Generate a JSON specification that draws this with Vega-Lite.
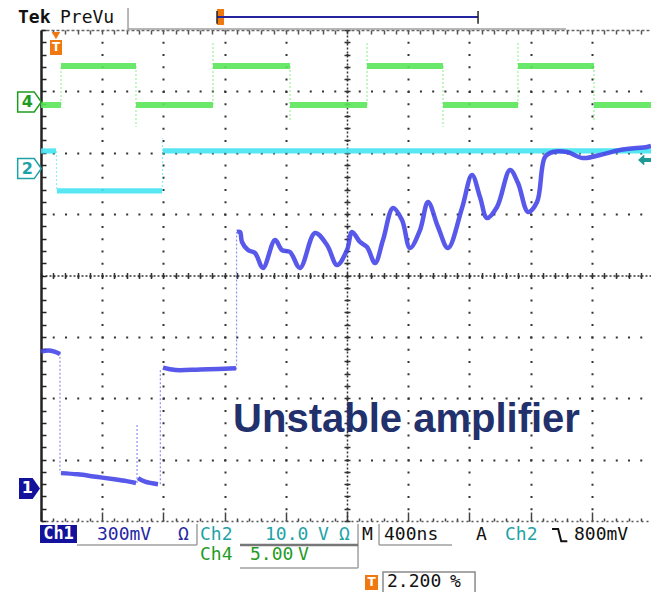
{
"$schema": "https://vega.github.io/schema/vega-lite/v6.json",
"width": 610, "height": 491,
"autosize": {"type": "none"},
"padding": {"left": 41, "top": 30, "right": 0, "bottom": 71},
"background": "white",
"config": {"view": {"stroke": null}},
"datasets": {
"trace": [
{"ch":"ch4","seg":"g0","x":0,"y":6.778},{"ch":"ch4","seg":"g0","x":0.327,"y":6.778},
{"ch":"ch4","seg":"g1","x":0.327,"y":7.413},{"ch":"ch4","seg":"g1","x":1.552,"y":7.413},
{"ch":"ch4","seg":"g2","x":1.552,"y":6.778},{"ch":"ch4","seg":"g2","x":2.81,"y":6.778},
{"ch":"ch4","seg":"g3","x":2.81,"y":7.413},{"ch":"ch4","seg":"g3","x":4.069,"y":7.413},
{"ch":"ch4","seg":"g4","x":4.069,"y":6.778},{"ch":"ch4","seg":"g4","x":5.327,"y":6.778},
{"ch":"ch4","seg":"g5","x":5.327,"y":7.413},{"ch":"ch4","seg":"g5","x":6.569,"y":7.413},
{"ch":"ch4","seg":"g6","x":6.569,"y":6.778},{"ch":"ch4","seg":"g6","x":7.794,"y":6.778},
{"ch":"ch4","seg":"g7","x":7.794,"y":7.413},{"ch":"ch4","seg":"g7","x":9.036,"y":7.413},
{"ch":"ch4","seg":"g8","x":9.036,"y":6.778},{"ch":"ch4","seg":"g8","x":9.967,"y":6.778},
{"ch":"ch2","seg":"c0","x":0,"y":6.029},{"ch":"ch2","seg":"c0","x":0.245,"y":6.029},
{"ch":"ch2","seg":"c1","x":0.261,"y":5.377},{"ch":"ch2","seg":"c1","x":1.977,"y":5.377},
{"ch":"ch2","seg":"c2","x":1.993,"y":6.029},{"ch":"ch2","seg":"c2","x":9.967,"y":6.029},
{"ch":"ch1","seg":"b0","x":0,"y":2.76},{"ch":"ch1","seg":"b0","x":0.12,"y":2.78},{"ch":"ch1","seg":"b0","x":0.22,"y":2.76},{"ch":"ch1","seg":"b0","x":0.31,"y":2.72},
{"ch":"ch1","seg":"b1","x":0.327,"y":0.78},{"ch":"ch1","seg":"b1","x":0.6,"y":0.76},{"ch":"ch1","seg":"b1","x":0.9,"y":0.72},{"ch":"ch1","seg":"b1","x":1.2,"y":0.68},{"ch":"ch1","seg":"b1","x":1.4,"y":0.65},{"ch":"ch1","seg":"b1","x":1.552,"y":0.62},
{"ch":"ch1","seg":"b2","x":1.585,"y":0.7},{"ch":"ch1","seg":"b2","x":1.7,"y":0.64},{"ch":"ch1","seg":"b2","x":1.912,"y":0.6},
{"ch":"ch1","seg":"b3","x":1.993,"y":2.5},{"ch":"ch1","seg":"b3","x":2.2,"y":2.46},{"ch":"ch1","seg":"b3","x":2.6,"y":2.47},{"ch":"ch1","seg":"b3","x":3.0,"y":2.48},{"ch":"ch1","seg":"b3","x":3.186,"y":2.49},
{"ch":"ch1","seg":"b4","x":3.203,"y":4.709},{"ch":"ch1","seg":"b4","x":3.252,"y":4.709},{"ch":"ch1","seg":"b4","x":3.284,"y":4.546},{"ch":"ch1","seg":"b4","x":3.382,"y":4.415},{"ch":"ch1","seg":"b4","x":3.497,"y":4.367},{"ch":"ch1","seg":"b4","x":3.627,"y":4.122},{"ch":"ch1","seg":"b4","x":3.824,"y":4.578},{"ch":"ch1","seg":"b4","x":3.938,"y":4.415},{"ch":"ch1","seg":"b4","x":4.069,"y":4.383},{"ch":"ch1","seg":"b4","x":4.232,"y":4.122},{"ch":"ch1","seg":"b4","x":4.477,"y":4.692},{"ch":"ch1","seg":"b4","x":4.673,"y":4.497},{"ch":"ch1","seg":"b4","x":4.837,"y":4.171},{"ch":"ch1","seg":"b4","x":5.0,"y":4.415},{"ch":"ch1","seg":"b4","x":5.082,"y":4.709},{"ch":"ch1","seg":"b4","x":5.212,"y":4.546},{"ch":"ch1","seg":"b4","x":5.327,"y":4.464},{"ch":"ch1","seg":"b4","x":5.458,"y":4.204},{"ch":"ch1","seg":"b4","x":5.588,"y":4.578},{"ch":"ch1","seg":"b4","x":5.752,"y":5.1},{"ch":"ch1","seg":"b4","x":5.899,"y":4.904},{"ch":"ch1","seg":"b4","x":6.029,"y":4.448},{"ch":"ch1","seg":"b4","x":6.193,"y":4.741},{"ch":"ch1","seg":"b4","x":6.324,"y":5.196},{"ch":"ch1","seg":"b4","x":6.487,"y":4.79},{"ch":"ch1","seg":"b4","x":6.65,"y":4.448},{"ch":"ch1","seg":"b4","x":6.879,"y":5.1},{"ch":"ch1","seg":"b4","x":7.042,"y":5.638},{"ch":"ch1","seg":"b4","x":7.173,"y":5.279},{"ch":"ch1","seg":"b4","x":7.288,"y":4.937},{"ch":"ch1","seg":"b4","x":7.451,"y":5.116},{"ch":"ch1","seg":"b4","x":7.663,"y":5.719},{"ch":"ch1","seg":"b4","x":7.794,"y":5.507},{"ch":"ch1","seg":"b4","x":7.958,"y":5.035},{"ch":"ch1","seg":"b4","x":8.105,"y":5.198},{"ch":"ch1","seg":"b4","x":8.235,"y":5.931},{"ch":"ch1","seg":"b4","x":8.366,"y":6.012},{"ch":"ch1","seg":"b4","x":8.595,"y":6.012},{"ch":"ch1","seg":"b4","x":8.856,"y":5.914},{"ch":"ch1","seg":"b4","x":9.134,"y":5.963},{"ch":"ch1","seg":"b4","x":9.461,"y":6.045},{"ch":"ch1","seg":"b4","x":9.902,"y":6.094},{"ch":"ch1","seg":"b4","x":9.967,"y":6.11}
],
"edge": [
{"ch":"ch4","x":0.327,"y":6.778,"y2":7.413},
{"ch":"ch4","x":1.552,"y":7.413,"y2":6.42},
{"ch":"ch4","x":2.81,"y":6.778,"y2":7.8},
{"ch":"ch4","x":4.069,"y":7.413,"y2":6.5},
{"ch":"ch4","x":5.327,"y":6.778,"y2":7.8},
{"ch":"ch4","x":6.569,"y":7.413,"y2":6.42},
{"ch":"ch4","x":7.794,"y":6.778,"y2":7.8},
{"ch":"ch4","x":9.036,"y":7.413,"y2":6.5},
{"ch":"ch2","x":0.253,"y":6.029,"y2":5.377},
{"ch":"ch2","x":1.985,"y":5.377,"y2":6.24},
{"ch":"ch1","x":0.31,"y":2.74,"y2":0.78},
{"ch":"ch1","x":1.569,"y":0.62,"y2":1.564},
{"ch":"ch1","x":1.95,"y":0.6,"y2":2.48},
{"ch":"ch1","x":3.195,"y":2.47,"y2":4.709}
],
"readout": [
{"x":0.915,"y":-0.228,"text":"300mV","ch":"ch1"},
{"x":2.239,"y":-0.228,"text":"Ω","ch":"ch1"},
{"x":2.598,"y":-0.228,"text":"Ch2","ch":"ch2"},
{"x":3.66,"y":-0.228,"text":"10.0","ch":"ch2"},
{"x":4.526,"y":-0.228,"text":"V","ch":"ch2"},
{"x":4.87,"y":-0.228,"text":"Ω","ch":"ch2"},
{"x":5.245,"y":-0.228,"text":"M","ch":"sys"},
{"x":5.605,"y":-0.228,"text":"400ns","ch":"sys"},
{"x":7.108,"y":-0.228,"text":"A","ch":"sys"},
{"x":7.582,"y":-0.228,"text":"Ch2","ch":"ch2"},
{"x":8.709,"y":-0.228,"text":"800mV","ch":"sys"},
{"x":2.598,"y":-0.554,"text":"Ch4","ch":"ch4"},
{"x":3.415,"y":-0.554,"text":"5.00","ch":"ch4"},
{"x":4.2,"y":-0.554,"text":"V","ch":"ch4"},
{"x":5.654,"y":-0.994,"text":"2.200","ch":"sys"},
{"x":6.683,"y":-0.994,"text":"%","ch":"sys"}
],
"badge": [{"x":0.286,"y":-0.215,"text":"Ch1","ch":"inv"}],
"gndtext": [
{"x":-0.225,"y":6.827,"text":"4","ch":"ch4"},
{"x":-0.225,"y":5.743,"text":"2","ch":"ch2"},
{"x":-0.225,"y":0.53,"text":"1","ch":"inv"}
],
"gnd": [
{"x":-0.188,"y":6.827,"ch":"ch4"},
{"x":-0.188,"y":5.743,"ch":"ch2"},
{"x":-0.188,"y":0.53,"ch":"ch1"}
],
"tmark": [{"x":0.245,"y":7.715,"text":"T"},{"x":5.4,"y":-1.0,"text":"T"}],
"header": [{"x":-0.376,"y":8.196,"text":"Tek"},{"x":0.31,"y":8.196,"text":"PreVu"}],
"title": [{"x":5.972,"y":1.45,"text":"Unstable amplifier"}],
"lines": [
{"part":"box","x":0.588,"x2":2.549,"y":-0.391,"y2":-0.391},
{"part":"box","x":2.549,"x2":2.549,"y":-0.049,"y2":-0.391},
{"part":"box","x":5.18,"x2":5.18,"y":-0.049,"y2":-0.766},
{"part":"box","x":3.252,"x2":5.18,"y":-0.766,"y2":-0.766},
{"part":"box","x":5.523,"x2":5.523,"y":-0.049,"y2":-0.391},
{"part":"box","x":5.523,"x2":6.716,"y":-0.391,"y2":-0.391},
{"part":"box","x":1.422,"x2":1.422,"y":8.358,"y2":7.984},
{"part":"box","x":1.422,"x2":8.578,"y":8.016,"y2":8.016},
{"part":"dark","x":3.252,"x2":5.18,"y":-0.391,"y2":-0.391},
{"part":"bar","x":2.876,"x2":7.141,"y":8.212,"y2":8.212},
{"part":"cap","x":7.141,"x2":7.141,"y":8.31,"y2":8.1},
{"part":"cap","x":2.876,"x2":2.876,"y":8.31,"y2":8.1}
],
"rects": [
{"part":"navy","x":-0.016,"x2":0.588,"y":-0.065,"y2":-0.358},
{"part":"orange","x":0.147,"x2":0.343,"y":7.837,"y2":7.593},
{"part":"orange","x":2.876,"x2":2.99,"y":8.342,"y2":8.082},
{"part":"orange","x":5.294,"x2":5.507,"y":-0.88,"y2":-1.124},
{"part":"frame","x":5.588,"x2":7.092,"y":-0.831,"y2":-1.2}
],
"glyph": [{"x":8.35,"y":-0.13},{"x":8.45,"y":-0.13},{"x":8.5,"y":-0.33},{"x":8.6,"y":-0.33}],
"arrow": [{"x":9.869,"y":5.882}],
"trig": [{"x":0.245,"y":7.91}]
},
"layer": [
{
"data": {"name": "trace"},
"mark": {"type": "line", "strokeCap": "butt", "opacity": 0.9, "interpolate": "catmull-rom"},
"encoding": {
"x": {"field": "x", "type": "quantitative", "scale": {"domain": [0, 9.967], "nice": false, "zero": false},
 "axis": {"orient": "bottom", "grid": true, "values": [1,2,3,4,5,6,7,8,9], "gridColor": "#333", "gridWidth": 2, "gridDash": [2, 10.275], "gridDashOffset": 1, "ticks": false, "labels": false, "domain": false, "title": null}},
"y": {"field": "y", "type": "quantitative", "scale": {"domain": [0, 8], "nice": false, "zero": false},
 "axis": {"orient": "left", "grid": true, "values": [1,2,3,4,5,6,7], "gridColor": "#333", "gridWidth": 2, "gridDash": [2, 10.24], "gridDashOffset": 1, "ticks": false, "labels": false, "domain": false, "title": null}},
"stroke": {"field": "ch", "type": "nominal", "scale": {"domain": ["ch1","ch2","ch4"], "range": ["#4646e8","#44e4f2","#5ae65a"]}, "legend": null},
"strokeWidth": {"field": "ch", "type": "nominal", "scale": {"domain": ["ch1","ch2","ch4"], "range": [4.5, 6, 6]}, "legend": null},
"detail": {"field": "seg", "type": "nominal"}
}
},
{
"data": {"name": "edge"},
"mark": {"type": "rule", "strokeWidth": 1.2, "opacity": 0.6, "strokeDash": [2, 2]},
"encoding": {
"x": {"field": "x", "type": "quantitative", "scale": {"domain": [0, 9.967], "nice": false, "zero": false},
 "axis": {"orient": "bottom", "values": [0,0.2,0.4,0.6,0.8,1,1.2,1.4,1.6,1.8,2,2.2,2.4,2.6,2.8,3,3.2,3.4,3.6,3.8,4,4.2,4.4,4.6,4.8,5,5.2,5.4,5.6,5.8,6,6.2,6.4,6.6,6.8,7,7.2,7.4,7.6,7.8,8,8.2,8.4,8.6,8.8,9,9.2,9.4,9.6,9.8], "ticks": true, "tickSize": {"condition": {"test": "datum.value % 1 === 0", "value": -9}, "value": -3}, "tickColor": "#444", "tickWidth": 1.5, "domain": true, "domainColor": "#555", "domainWidth": 1.5, "domainDash": [2, 3], "labels": false, "grid": false, "title": null}},
"y": {"field": "y", "type": "quantitative", "scale": {"domain": [0, 8], "nice": false, "zero": false},
 "axis": {"orient": "left", "values": [0,0.2,0.4,0.6,0.8,1,1.2,1.4,1.6,1.8,2,2.2,2.4,2.6,2.8,3,3.2,3.4,3.6,3.8,4,4.2,4.4,4.6,4.8,5,5.2,5.4,5.6,5.8,6,6.2,6.4,6.6,6.8,7,7.2,7.4,7.6,7.8,8], "ticks": true, "tickSize": -5, "tickColor": "#222", "tickWidth": 1.5, "domain": true, "domainColor": "#222", "domainWidth": 2.5, "labels": false, "grid": false, "title": null}},
"y2": {"field": "y2"},
"stroke": {"field": "ch", "type": "nominal", "scale": {"domain": ["ch1","ch2","ch4"], "range": ["#4646e8","#44e4f2","#5ae65a"]}, "legend": null}
}
},
{
"data": {"name": "readout"},
"mark": {"type": "text", "font": "DejaVu Sans Mono", "fontSize": 18, "align": "left", "baseline": "middle"},
"encoding": {
"x": {"field": "x", "type": "quantitative", "scale": {"domain": [0, 9.967], "nice": false, "zero": false},
 "axis": {"orient": "top", "values": [0,0.2,0.4,0.6,0.8,1,1.2,1.4,1.6,1.8,2,2.2,2.4,2.6,2.8,3,3.2,3.4,3.6,3.8,4,4.2,4.4,4.6,4.8,5,5.2,5.4,5.6,5.8,6,6.2,6.4,6.6,6.8,7,7.2,7.4,7.6,7.8,8,8.2,8.4,8.6,8.8,9,9.2,9.4,9.6,9.8], "ticks": true, "tickSize": -4, "tickColor": "#555", "tickWidth": 1.5, "domain": true, "domainColor": "#666", "domainWidth": 1.5, "domainDash": [3, 2], "labels": false, "grid": false, "title": null}},
"y": {"field": "y", "type": "quantitative", "scale": {"domain": [0, 8], "nice": false, "zero": false},
 "axis": {"orient": "left", "offset": -306, "values": [0,0.2,0.4,0.6,0.8,1,1.2,1.4,1.6,1.8,2,2.2,2.4,2.6,2.8,3,3.2,3.4,3.6,3.8,4,4.2,4.4,4.6,4.8,5,5.2,5.4,5.6,5.8,6,6.2,6.4,6.6,6.8,7,7.2,7.4,7.6,7.8,8], "ticks": true, "tickSize": 3, "tickColor": "#333", "tickWidth": 1.5, "domain": true, "domainColor": "#333", "domainWidth": 1.5, "domainDash": [2, 2], "labels": false, "grid": false, "title": null}},
"text": {"field": "text"},
"fill": {"field": "ch", "type": "nominal", "scale": {"domain": ["ch1","ch2","ch4","sys","inv"], "range": ["#2626a6","#1ea2a8","#1f9c1f","#111111","#ffffff"]}, "legend": null}
}
},
{
"data": {"name": "rects"},
"transform": [{"filter": {"field": "part", "equal": "navy"}}],
"mark": {"type": "rect", "color": "#12129c"},
"encoding": {
"x": {"field": "x", "type": "quantitative", "scale": {"domain": [0, 9.967], "nice": false, "zero": false},
 "axis": {"orient": "bottom", "offset": -245.5, "values": [0,0.2,0.4,0.6,0.8,1,1.2,1.4,1.6,1.8,2,2.2,2.4,2.6,2.8,3,3.2,3.4,3.6,3.8,4,4.2,4.4,4.6,4.8,5,5.2,5.4,5.6,5.8,6,6.2,6.4,6.6,6.8,7,7.2,7.4,7.6,7.8,8,8.2,8.4,8.6,8.8,9,9.2,9.4,9.6,9.8], "ticks": true, "tickSize": 3, "tickColor": "#333", "tickWidth": 1.5, "domain": true, "domainColor": "#333", "domainWidth": 1.5, "domainDash": [2, 2], "labels": false, "grid": false, "title": null}},
"x2": {"field": "x2"},
"y": {"field": "y", "type": "quantitative", "scale": {"domain": [0, 8], "nice": false, "zero": false},
 "axis": {"orient": "left", "offset": -306, "values": [0,0.2,0.4,0.6,0.8,1,1.2,1.4,1.6,1.8,2,2.2,2.4,2.6,2.8,3,3.2,3.4,3.6,3.8,4,4.2,4.4,4.6,4.8,5,5.2,5.4,5.6,5.8,6,6.2,6.4,6.6,6.8,7,7.2,7.4,7.6,7.8,8], "ticks": true, "tickSize": -3, "tickColor": "#333", "tickWidth": 1.5, "domain": false, "labels": false, "grid": false, "title": null}},
"y2": {"field": "y2"}
}
},
{
"data": {"name": "rects"},
"transform": [{"filter": {"field": "part", "equal": "orange"}}],
"mark": {"type": "rect", "color": "#f07810"},
"encoding": {
"x": {"field": "x", "type": "quantitative", "scale": {"domain": [0, 9.967], "nice": false, "zero": false},
 "axis": {"orient": "bottom", "offset": -245.5, "values": [0,0.2,0.4,0.6,0.8,1,1.2,1.4,1.6,1.8,2,2.2,2.4,2.6,2.8,3,3.2,3.4,3.6,3.8,4,4.2,4.4,4.6,4.8,5,5.2,5.4,5.6,5.8,6,6.2,6.4,6.6,6.8,7,7.2,7.4,7.6,7.8,8,8.2,8.4,8.6,8.8,9,9.2,9.4,9.6,9.8], "ticks": true, "tickSize": -3, "tickColor": "#333", "tickWidth": 1.5, "domain": false, "labels": false, "grid": false, "title": null}},
"x2": {"field": "x2"},
"y": {"field": "y", "type": "quantitative", "scale": {"domain": [0, 8], "nice": false, "zero": false}, "axis": null},
"y2": {"field": "y2"}
}
},
{
"data": {"name": "rects"},
"transform": [{"filter": {"field": "part", "equal": "frame"}}],
"mark": {"type": "rect", "fill": null, "stroke": "#8a8a8a", "strokeWidth": 1.5},
"encoding": {
"x": {"field": "x", "type": "quantitative", "scale": {"domain": [0, 9.967], "nice": false, "zero": false}, "axis": null},
"x2": {"field": "x2"},
"y": {"field": "y", "type": "quantitative", "scale": {"domain": [0, 8], "nice": false, "zero": false}, "axis": null},
"y2": {"field": "y2"}
}
},
{
"data": {"name": "lines"},
"transform": [{"filter": {"field": "part", "equal": "box"}}],
"mark": {"type": "rule", "color": "#a0a0a0", "strokeWidth": 1.5},
"encoding": {
"x": {"field": "x", "type": "quantitative", "scale": {"domain": [0, 9.967], "nice": false, "zero": false}, "axis": null},
"x2": {"field": "x2"},
"y": {"field": "y", "type": "quantitative", "scale": {"domain": [0, 8], "nice": false, "zero": false}, "axis": null},
"y2": {"field": "y2"}
}
},
{
"data": {"name": "lines"},
"transform": [{"filter": {"field": "part", "equal": "dark"}}],
"mark": {"type": "rule", "color": "#777777", "strokeWidth": 2.5},
"encoding": {
"x": {"field": "x", "type": "quantitative", "scale": {"domain": [0, 9.967], "nice": false, "zero": false}, "axis": null},
"x2": {"field": "x2"},
"y": {"field": "y", "type": "quantitative", "scale": {"domain": [0, 8], "nice": false, "zero": false}, "axis": null},
"y2": {"field": "y2"}
}
},
{
"data": {"name": "lines"},
"transform": [{"filter": {"field": "part", "equal": "bar"}}],
"mark": {"type": "rule", "color": "#2424a0", "strokeWidth": 2},
"encoding": {
"x": {"field": "x", "type": "quantitative", "scale": {"domain": [0, 9.967], "nice": false, "zero": false}, "axis": null},
"x2": {"field": "x2"},
"y": {"field": "y", "type": "quantitative", "scale": {"domain": [0, 8], "nice": false, "zero": false}, "axis": null},
"y2": {"field": "y2"}
}
},
{
"data": {"name": "lines"},
"transform": [{"filter": {"field": "part", "equal": "cap"}}],
"mark": {"type": "rule", "color": "#222222", "strokeWidth": 1.5},
"encoding": {
"x": {"field": "x", "type": "quantitative", "scale": {"domain": [0, 9.967], "nice": false, "zero": false}, "axis": null},
"x2": {"field": "x2"},
"y": {"field": "y", "type": "quantitative", "scale": {"domain": [0, 8], "nice": false, "zero": false}, "axis": null},
"y2": {"field": "y2"}
}
},
{
"data": {"name": "glyph"},
"mark": {"type": "line", "color": "#111111", "strokeWidth": 2},
"encoding": {
"x": {"field": "x", "type": "quantitative", "scale": {"domain": [0, 9.967], "nice": false, "zero": false}, "axis": null},
"y": {"field": "y", "type": "quantitative", "scale": {"domain": [0, 8], "nice": false, "zero": false}, "axis": null}
}
},
{
"data": {"name": "gnd"},
"transform": [{"filter": {"field": "ch", "oneOf": ["ch2", "ch4"]}}],
"mark": {"type": "point", "shape": "M-1,-0.85L0.4,-0.85L1,0L0.4,0.85L-1,0.85Z", "size": 560, "filled": false, "strokeWidth": 1.5, "opacity": 1},
"encoding": {
"x": {"field": "x", "type": "quantitative", "scale": {"domain": [0, 9.967], "nice": false, "zero": false}, "axis": null},
"y": {"field": "y", "type": "quantitative", "scale": {"domain": [0, 8], "nice": false, "zero": false}, "axis": null},
"color": {"field": "ch", "type": "nominal", "scale": {"domain": ["ch1","ch2","ch4"], "range": ["#12129c","#1ea2a8","#1f9c1f"]}, "legend": null}
}
},
{
"data": {"name": "gnd"},
"transform": [{"filter": {"field": "ch", "equal": "ch1"}}],
"mark": {"type": "point", "shape": "M-1,-1L0.3,-1L1,0L0.3,1L-1,1Z", "size": 441, "filled": true, "opacity": 1},
"encoding": {
"x": {"field": "x", "type": "quantitative", "scale": {"domain": [0, 9.967], "nice": false, "zero": false}, "axis": null},
"y": {"field": "y", "type": "quantitative", "scale": {"domain": [0, 8], "nice": false, "zero": false}, "axis": null},
"color": {"field": "ch", "type": "nominal", "scale": {"domain": ["ch1","ch2","ch4"], "range": ["#12129c","#1ea2a8","#1f9c1f"]}, "legend": null}
}
},
{
"data": {"name": "arrow"},
"mark": {"type": "point", "shape": "M-1,0L-0.1,-0.8L-0.1,-0.3L1,-0.3L1,0.3L-0.1,0.3L-0.1,0.8Z", "size": 196, "filled": true, "opacity": 1, "color": "#1e9a96"},
"encoding": {
"x": {"field": "x", "type": "quantitative", "scale": {"domain": [0, 9.967], "nice": false, "zero": false}, "axis": null},
"y": {"field": "y", "type": "quantitative", "scale": {"domain": [0, 8], "nice": false, "zero": false}, "axis": null}
}
},
{
"data": {"name": "trig"},
"mark": {"type": "point", "shape": "triangle-down", "size": 70, "filled": true, "opacity": 1, "color": "#f07810"},
"encoding": {
"x": {"field": "x", "type": "quantitative", "scale": {"domain": [0, 9.967], "nice": false, "zero": false}, "axis": null},
"y": {"field": "y", "type": "quantitative", "scale": {"domain": [0, 8], "nice": false, "zero": false}, "axis": null}
}
},
{
"data": {"name": "badge"},
"mark": {"type": "text", "font": "DejaVu Sans Mono", "fontSize": 17, "fontWeight": "bold", "align": "center", "baseline": "middle"},
"encoding": {
"x": {"field": "x", "type": "quantitative", "scale": {"domain": [0, 9.967], "nice": false, "zero": false}, "axis": null},
"y": {"field": "y", "type": "quantitative", "scale": {"domain": [0, 8], "nice": false, "zero": false}, "axis": null},
"text": {"field": "text"},
"fill": {"field": "ch", "type": "nominal", "scale": {"domain": ["ch1","ch2","ch4","sys","inv"], "range": ["#2626a6","#1ea2a8","#1f9c1f","#111111","#ffffff"]}, "legend": null}
}
},
{
"data": {"name": "gndtext"},
"mark": {"type": "text", "font": "DejaVu Sans", "fontSize": 16, "fontWeight": "bold", "align": "center", "baseline": "middle"},
"encoding": {
"x": {"field": "x", "type": "quantitative", "scale": {"domain": [0, 9.967], "nice": false, "zero": false}, "axis": null},
"y": {"field": "y", "type": "quantitative", "scale": {"domain": [0, 8], "nice": false, "zero": false}, "axis": null},
"text": {"field": "text"},
"fill": {"field": "ch", "type": "nominal", "scale": {"domain": ["ch1","ch2","ch4","sys","inv"], "range": ["#2626a6","#1ea2a8","#1f9c1f","#111111","#ffffff"]}, "legend": null}
}
},
{
"data": {"name": "tmark"},
"mark": {"type": "text", "font": "DejaVu Sans", "fontSize": 12, "fontWeight": "bold", "align": "center", "baseline": "middle", "color": "#ffffff"},
"encoding": {
"x": {"field": "x", "type": "quantitative", "scale": {"domain": [0, 9.967], "nice": false, "zero": false}, "axis": null},
"y": {"field": "y", "type": "quantitative", "scale": {"domain": [0, 8], "nice": false, "zero": false}, "axis": null},
"text": {"field": "text"}
}
},
{
"data": {"name": "header"},
"transform": [{"filter": {"field": "text", "equal": "Tek"}}],
"mark": {"type": "text", "font": "DejaVu Sans Mono", "fontSize": 18, "fontWeight": "bold", "align": "left", "baseline": "middle", "color": "#111111"},
"encoding": {
"x": {"field": "x", "type": "quantitative", "scale": {"domain": [0, 9.967], "nice": false, "zero": false}, "axis": null},
"y": {"field": "y", "type": "quantitative", "scale": {"domain": [0, 8], "nice": false, "zero": false}, "axis": null},
"text": {"field": "text"}
}
},
{
"data": {"name": "header"},
"transform": [{"filter": {"field": "text", "equal": "PreVu"}}],
"mark": {"type": "text", "font": "DejaVu Sans Mono", "fontSize": 18, "align": "left", "baseline": "middle", "color": "#111111"},
"encoding": {
"x": {"field": "x", "type": "quantitative", "scale": {"domain": [0, 9.967], "nice": false, "zero": false}, "axis": null},
"y": {"field": "y", "type": "quantitative", "scale": {"domain": [0, 8], "nice": false, "zero": false}, "axis": null},
"text": {"field": "text"}
}
},
{
"data": {"name": "title"},
"mark": {"type": "text", "font": "Liberation Sans", "fontSize": 40, "fontWeight": "bold", "align": "center", "baseline": "alphabetic", "color": "#22306c"},
"encoding": {
"x": {"field": "x", "type": "quantitative", "scale": {"domain": [0, 9.967], "nice": false, "zero": false}, "axis": null},
"y": {"field": "y", "type": "quantitative", "scale": {"domain": [0, 8], "nice": false, "zero": false}, "axis": null},
"text": {"field": "text"}
}
}
],
"resolve": {"axis": {"x": "independent", "y": "independent"}}
}
